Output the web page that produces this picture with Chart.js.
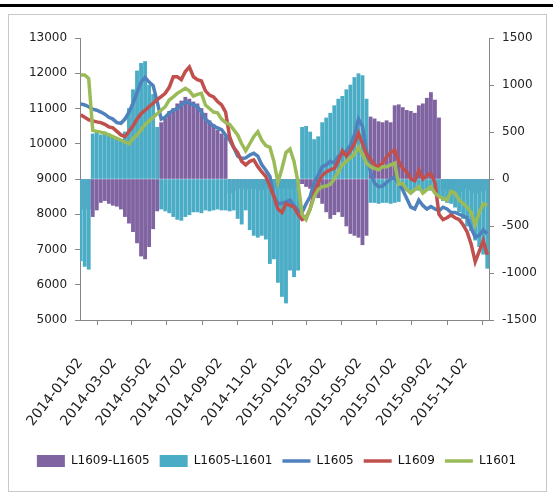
<!DOCTYPE html>
<html>
<head>
<meta charset="utf-8">
<script src="https://cdn.jsdelivr.net/npm/chart.js@4.4.1/dist/chart.umd.min.js"></script>
<style>
    html, body { margin: 0; padding: 0; background: #fff; }
    body { width: 553px; height: 493px; position: relative; overflow: hidden; }
    #topline { position: absolute; left: 0; top: 4px; width: 553px; height: 3px; background: #000; }
    #frame { position: absolute; left: 8px; top: 14px; width: 537px; height: 476px; border: 1px solid #c8c8c8; }
    #wrap { position: absolute; left: 0; top: 0; width: 553px; height: 493px; }
</style>
</head>
<body>
<div id="topline"></div>
<div id="frame"></div>
<div id="wrap"><canvas id="chart"></canvas></div>
<script>
// weekly samples (Fridays), 2014-01-03 .. 2015-12-11
const weeks = [
    '2014-01-03','2014-01-10','2014-01-17','2014-01-24','2014-01-31','2014-02-07','2014-02-14','2014-02-21','2014-02-28',
    '2014-03-07','2014-03-14','2014-03-21','2014-03-28','2014-04-04','2014-04-11','2014-04-18','2014-04-25',
    '2014-05-02','2014-05-09','2014-05-16','2014-05-23','2014-05-30','2014-06-06','2014-06-13','2014-06-20','2014-06-27',
    '2014-07-04','2014-07-11','2014-07-18','2014-07-25','2014-08-01','2014-08-08','2014-08-15','2014-08-22','2014-08-29',
    '2014-09-05','2014-09-12','2014-09-19','2014-09-26','2014-10-03','2014-10-10','2014-10-17','2014-10-24','2014-10-31',
    '2014-11-07','2014-11-14','2014-11-21','2014-11-28','2014-12-05','2014-12-12','2014-12-19','2014-12-26',
    '2015-01-02','2015-01-09','2015-01-16','2015-01-23','2015-01-30','2015-02-06','2015-02-13','2015-02-20','2015-02-27',
    '2015-03-06','2015-03-13','2015-03-20','2015-03-27','2015-04-03','2015-04-10','2015-04-17','2015-04-24',
    '2015-05-01','2015-05-08','2015-05-15','2015-05-22','2015-05-29','2015-06-05','2015-06-12','2015-06-19','2015-06-26',
    '2015-07-03','2015-07-10','2015-07-17','2015-07-24','2015-07-31','2015-08-07','2015-08-14','2015-08-21','2015-08-28',
    '2015-09-04','2015-09-11','2015-09-18','2015-09-25','2015-10-02','2015-10-09','2015-10-16','2015-10-23','2015-10-30',
    '2015-11-06','2015-11-13','2015-11-20','2015-11-27','2015-12-04','2015-12-11'
];

const tickDates = ['2014-01-02','2014-03-02','2014-05-02','2014-07-02','2014-09-02','2014-11-02',
    '2015-01-02','2015-03-02','2015-05-02','2015-07-02','2015-09-02','2015-11-02'];

// left axis (price)
const L1605 = [
    11130, 11100, 11050, 10980, 10950, 10900, 10840, 10750, 10700, 10600,
    10580, 10700, 10900, 11150, 11450, 11750, 11880, 11750, 11650, 11200,
    10700, 10750, 10870, 10950, 11000, 11100, 11200, 11150, 11100, 11050,
    10900, 10700, 10600, 10500, 10450, 10400, 10250, 10100, 9900, 9650,
    9580, 9600, 9680, 9730, 9650, 9400, 9250, 9070, 8500, 8300,
    8310, 8350, 8400, 8250, 8100, 8050, 8300, 8500, 8900, 9100,
    9350, 9400, 9500, 9450, 9650, 9700, 9800, 9950, 10250, 10700,
    10500, 9800, 9200, 8880, 8780, 8800, 8900, 9000, 9050, 8880,
    8690, 8450, 8200, 8150, 8400, 8250, 8150, 8220, 8150, 8100,
    8200, 8150, 8050, 8050, 8000, 7950, 7900, 7600, 7350, 7400,
    7550, 7450
];
const L1609 = [
    10820, 10750, 10680, 10650, 10620, 10600, 10550, 10480, 10450, 10350,
    10250, 10200, 10350, 10500, 10700, 10850, 10950, 11050, 11150, 11250,
    11340, 11430, 11600, 11900, 11900, 11820, 12050, 12180, 11900, 11820,
    11780, 11500, 11380, 11330, 11200, 11100, 10900, 10200, 9900, 9750,
    9500, 9400, 9500, 9540, 9350, 9200, 9070, 8800, 8500, 8150,
    8050, 8300, 8250, 8200, 8000, 7850, 7900, 8150, 8600, 8880,
    9100, 9200, 9260, 9300, 9500, 9800, 9650, 9800, 10000, 10300,
    10000, 9700, 9550, 9400, 9350, 9450, 9630, 9750, 9820, 9500,
    9300, 9200, 9000, 8950, 9250, 9000, 9100, 9150, 8900, 8000,
    7850, 7900, 7980, 7900, 7850, 7700, 7500, 7150, 6650, 6950,
    7250, 6850
];
const L1601 = [
    11950, 11950, 11850, 10380, 10350, 10330, 10300, 10250, 10200, 10150,
    10100, 10050, 10000, 10150, 10250, 10400, 10550, 10650, 10750, 10850,
    10950, 11050, 11240, 11330, 11430, 11500, 11575, 11500, 11350, 11400,
    11430, 11100, 11000, 10900, 10880, 10700, 10600, 10550, 10400, 10250,
    10000, 9800, 10000, 10200, 10340, 10100, 9950, 9900, 9500, 8900,
    9300, 9750, 9850, 9500, 8900, 8000, 7850, 8150, 8500, 8700,
    8780, 8800, 8850, 9000, 9200, 9400, 9500, 9600, 9700, 9900,
    9700, 9450, 9350, 9300, 9260, 9350, 9350, 9400, 9450, 8850,
    8880, 8700, 8600, 8700, 8780, 8600, 8700, 8780, 8600, 8500,
    8450, 8400, 8650, 8600, 8400, 8300, 8200, 8050, 7700, 8050,
    8300, 8250
];

// right axis (spreads)
const L1609_L1605 = [
    -320, -320, -320, -400, -330, -250, -230, -260, -280, -290,
    -320, -400, -470, -560, -680, -820, -850, -720, -530, -340,
    600, 650, 720, 750, 800, 830, 870, 850, 820, 800,
    750, 700, 620, 580, 520, 480, 450, -150, -120, -100,
    -100, -110, -100, -100, -120, -110, -100, -100, -100, -100,
    -100, -100, -100, -100, -80, -50, -80, -100, -150, -200,
    -260, -350, -420, -380, -350, -400, -500, -580, -600, -620,
    -700, -600, 660, 640, 610, 600, 620, 600, 780, 790,
    760, 730, 720, 700, 780, 800, 860, 920, 840, 650,
    -120, -100, -130, -120, -150, -130, -100, -120, -150, -150,
    -130, -120
];
const L1605_L1601 = [
    -870, -930, -960, 480, 500, 470, 500, 480, 450, 420,
    400, 500, 750, 950, 1150, 1230, 1250, 1000, 900, 550,
    -320, -340, -360, -400, -430, -440, -400, -380, -350, -350,
    -360, -330, -340, -330, -320, -330, -330, -340, -330, -420,
    -480, -330, -540, -600, -620, -600, -640, -900, -850, -1100,
    -1250, -1320, -970, -1040, -970, 550, 560, 500, 420, 450,
    600, 650, 700, 780, 850, 880, 950, 1000, 1080, 1120,
    1100, 850, -250, -250, -260, -250, -250, -260, -250, -240,
    -120, -120, -120, -120, -120, -120, -120, -120, -120, -200,
    -230, -250, -260, -300, -350, -420, -500, -550, -650, -720,
    -800, -950
];

const FONT = 'DejaVu Sans';
const AXIS = '#868686';
const dayOf = s => (Date.parse(s) - Date.parse('2014-01-02')) / 86400000;
const pts = vals => weeks.map((d, i) => ({ x: dayOf(d), y: vals[i] }));

function barSet(label, vals, color, order) {
    return { type: 'bar', label: label, data: pts(vals), yAxisID: 'y1',
        backgroundColor: color, borderWidth: 0, barThickness: 3.2, grouped: false, order: order };
}
function lineSet(label, vals, color, order) {
    return { type: 'line', label: label, data: pts(vals), yAxisID: 'y',
        borderColor: color, backgroundColor: color, borderWidth: 3.5,
        pointRadius: 0, tension: 0, fill: false, order: order };
}

new Chart(document.getElementById('chart'), {
    type: 'bar',
    data: {
        datasets: [
            barSet('L1609-L1605', L1609_L1605, '#8064A2', 5),
            barSet('L1605-L1601', L1605_L1601, '#4BACC6', 4),
            lineSet('L1605', L1605, '#4F81BD', 3),
            lineSet('L1609', L1609, '#C0504D', 2),
            lineSet('L1601', L1601, '#9BBB59', 1)
        ]
    },
    options: {
        responsive: true, maintainAspectRatio: false,
        animation: false,
        layout: { padding: { top: 38, left: 0, right: 0, bottom: 16 } },
        plugins: {
            tooltip: { enabled: false },
            legend: {
                position: 'bottom',
                labels: {
                    usePointStyle: true, pointStyleWidth: 28, boxHeight: 12, padding: 10,
                    color: '#111', font: { family: FONT, size: 12 },
                    sort: (a, b) => a.datasetIndex - b.datasetIndex,
                    generateLabels: function (chart) {
                        const items = Chart.defaults.plugins.legend.labels.generateLabels(chart);
                        items.forEach(it => {
                            const ds = chart.data.datasets[it.datasetIndex];
                            if (ds.type === 'bar') { it.pointStyle = 'rect'; it.lineWidth = 0; }
                            else { it.pointStyle = 'line'; it.lineWidth = 3.5; }
                        });
                        return items;
                    }
                }
            }
        },
        scales: {
            x: {
                type: 'linear', min: 0, max: 711, offset: false,
                afterBuildTicks: s => { s.ticks = tickDates.map(d => ({ value: dayOf(d) })); },
                afterFit: s => { s.height = 125; },
                ticks: { autoSkip: false, minRotation: 52, maxRotation: 52, padding: 30,
                    color: '#222', font: { family: FONT, size: 14 },
                    callback: (v, i) => tickDates[i] },
                grid: { drawOnChartArea: false, drawTicks: true, tickLength: 5, color: AXIS },
                border: { color: AXIS }
            },
            y: {
                position: 'left', min: 5000, max: 13000,
                afterFit: s => { s.width = 73; },
                ticks: { stepSize: 1000, padding: 8, color: '#222', font: { family: FONT, size: 12 },
                    callback: v => String(v) },
                grid: { drawOnChartArea: false, tickLength: 5, color: AXIS },
                border: { color: AXIS }
            },
            y1: {
                position: 'right', min: -1500, max: 1500,
                afterFit: s => { s.width = 64; },
                ticks: { stepSize: 500, padding: 8, color: '#222', font: { family: FONT, size: 12 },
                    callback: v => String(v) },
                grid: { drawOnChartArea: false, tickLength: 5, color: AXIS },
                border: { color: AXIS }
            }
        }
    }
});
</script>
</body>
</html>
